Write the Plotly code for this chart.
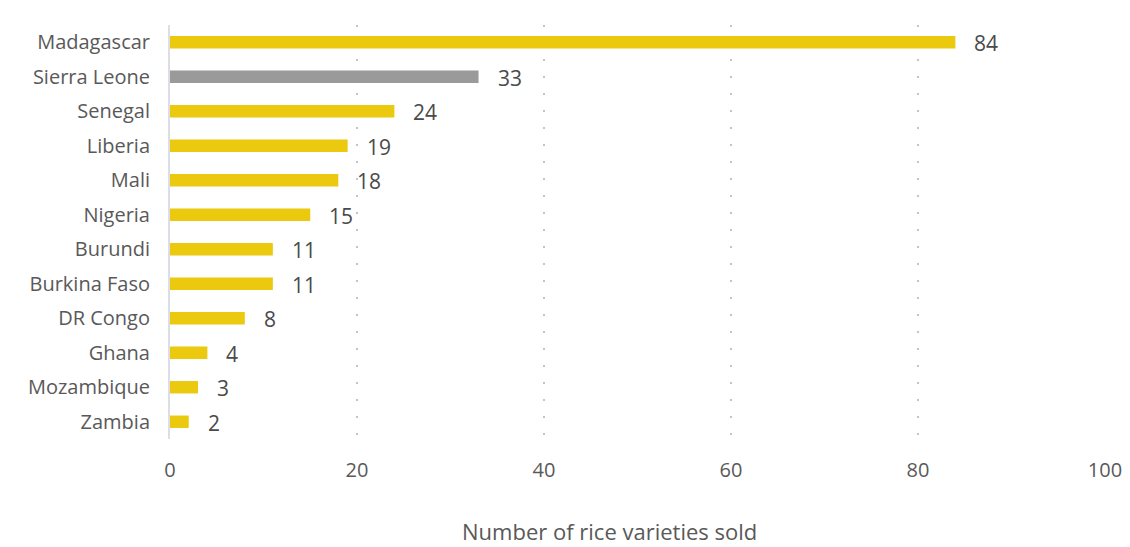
import plotly.graph_objects as go

countries = ["Madagascar", "Sierra Leone", "Senegal", "Liberia", "Mali", "Nigeria",
             "Burundi", "Burkina Faso", "DR Congo", "Ghana", "Mozambique", "Zambia"]
varieties = [84, 33, 24, 19, 18, 15, 11, 11, 8, 4, 3, 2]
highlight = "Sierra Leone"
x_ticks = [0, 20, 40, 60, 80, 100]
x_title = "Number of rice varieties sold"

YELLOW = "#EBC90F"
GREY = "#9A9A9A"
TEXT = "#595959"
FONT = "Open Sans, sans-serif"

colors = [GREY if c == highlight else YELLOW for c in countries]

fig = go.Figure(go.Bar(
    x=varieties,
    y=countries,
    orientation="h",
    marker=dict(color=colors, line=dict(width=0)),
    width=0.36,
    hoverinfo="x+y",
))

# value labels to the right of each bar
for c, v in zip(countries, varieties):
    fig.add_annotation(
        x=v, y=c, text=str(v), showarrow=False,
        xanchor="left", yanchor="middle", xshift=17, yshift=-1,
        font=dict(size=21, color="#4a4a4a", family=FONT),
    )

# x-axis caption, set below the tick labels
fig.add_annotation(
    x=0.47, y=0, xref="paper", yref="paper",
    text=x_title, showarrow=False,
    xanchor="center", yanchor="middle", yshift=-92,
    font=dict(size=22, color=TEXT, family=FONT),
)

fig.update_layout(
    width=1130, height=547,
    margin=dict(l=170, r=25, t=25, b=108),
    plot_bgcolor="white", paper_bgcolor="white",
    font=dict(family=FONT, color=TEXT, size=20),
    showlegend=False,
)

fig.update_xaxes(
    range=[0, 100],
    tickvals=x_ticks,
    showgrid=True, gridcolor="#c4c4c4", griddash="2px,15px", gridwidth=2,
    zeroline=False,
    showline=False,
    ticks="outside", ticklen=13, tickcolor="rgba(0,0,0,0)",
    tickfont=dict(size=20, color=TEXT),
    automargin=False,
)

fig.update_yaxes(
    autorange="reversed",
    showgrid=False,
    showline=True, linecolor="#dddde8", linewidth=2,
    ticks="outside", ticklen=14, tickcolor="rgba(0,0,0,0)",
    tickfont=dict(size=20, color=TEXT),
    automargin=False,
)

fig.write_html("out.html")
